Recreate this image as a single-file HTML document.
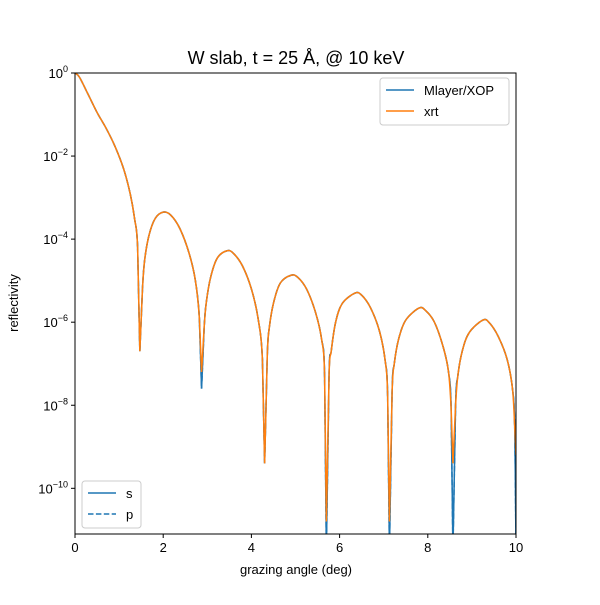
<!DOCTYPE html>
<html><head><meta charset="utf-8"><style>
body{margin:0;background:#fff}
svg{font-family:"Liberation Sans","DejaVu Sans",sans-serif}
</style></head><body>
<svg id="chart" width="600" height="600" viewBox="0 0 600 600">
<rect width="600" height="600" fill="#fff"/>
<text x="296" y="64" font-size="18" text-anchor="middle">W slab, t = 25 Å, @ 10 keV</text>
<g id="plot"></g>
<text x="296" y="574" font-size="13" text-anchor="middle">grazing angle (deg)</text>
<text x="18" y="303" font-size="13" text-anchor="middle" transform="rotate(-90 18 303)">reflectivity</text>
</svg>
<script>
const angles=[0,0.1,0.3,0.5,0.7,0.9,1.1,1.25,1.35,1.42,1.47,
1.53,1.58,1.68,1.82,2.0,2.17,2.38,2.59,2.73,2.82,2.87,
2.93,2.98,3.08,3.23,3.45,3.6,3.8,4.0,4.15,4.25,4.3,
4.36,4.41,4.51,4.66,4.9,5.05,5.25,5.45,5.59,5.66,5.7,
5.76,5.81,5.91,6.06,6.35,6.5,6.7,6.9,7.03,7.09,7.13,
7.19,7.24,7.34,7.5,7.8,7.95,8.15,8.35,8.47,8.53,8.57,
8.63,8.68,8.78,8.94,9.25,9.4,9.6,9.8,9.92,9.97,10];
const mlayerLog=[0,-0.1,-0.52,-0.95,-1.32,-1.75,-2.3,-2.9,-3.5,-4.2,-6.7,
-5.2,-4.5,-3.9,-3.5,-3.35,-3.42,-3.75,-4.35,-5.0,-5.9,-7.6,
-6.1,-5.5,-4.9,-4.45,-4.28,-4.35,-4.65,-5.2,-5.9,-6.9,-9.4,
-6.8,-6.1,-5.5,-5.05,-4.87,-4.92,-5.2,-5.75,-6.4,-7.3,-11.5,
-7.3,-6.7,-6.0,-5.55,-5.3,-5.35,-5.65,-6.2,-6.9,-7.8,-11.5,
-7.7,-7.0,-6.4,-5.95,-5.66,-5.72,-6.0,-6.6,-7.2,-8.1,-11.5,
-8.0,-7.3,-6.7,-6.25,-5.95,-6.02,-6.35,-6.9,-7.6,-8.5,-11.5];
const xrtLog=[0,-0.1,-0.52,-0.95,-1.32,-1.75,-2.3,-2.9,-3.5,-4.2,-6.7,
-5.2,-4.5,-3.9,-3.5,-3.35,-3.42,-3.75,-4.35,-5.0,-5.9,-7.2,
-6.1,-5.5,-4.9,-4.45,-4.28,-4.35,-4.65,-5.2,-5.9,-6.9,-9.4,
-6.8,-6.1,-5.5,-5.05,-4.87,-4.92,-5.2,-5.75,-6.4,-7.3,-10.8,
-7.3,-6.7,-6.0,-5.55,-5.3,-5.35,-5.65,-6.2,-6.9,-7.8,-10.8,
-7.7,-7.0,-6.4,-5.95,-5.66,-5.72,-6.0,-6.6,-7.2,-8.1,-9.4,
-8.0,-7.3,-6.7,-6.25,-5.95,-6.02,-6.35,-6.9,-7.6,-8.5,-9.2];
const xTicks=[0,2,4,6,8,10];
const yTicks=[0,-2,-4,-6,-8,-10];
const L=75,R=516,T=73,B=534,yMin=-11.1,yMax=0;
const xs=v=>L+(v-0)/(10-0)*(R-L);
const ys=v=>T+(yMax-Math.max(v,yMin-0.4))/(yMax-yMin)*(B-T);
const NS="http://www.w3.org/2000/svg";
const g=document.getElementById('plot');
function mk(t,a){const e=document.createElementNS(NS,t);for(const k in a)e.setAttribute(k,a[k]);return e;}
const defs=mk('defs',{});const cp=mk('clipPath',{id:'clip'});cp.appendChild(mk('rect',{x:L,y:T,width:R-L,height:B-T}));defs.appendChild(cp);g.appendChild(defs);
function pathD(arr){
 const P=arr.map((v,i)=>[xs(angles[i]),ys(v)]);
 let d='M'+P[0][0].toFixed(2)+' '+P[0][1].toFixed(2);
 for(let i=0;i<P.length-1;i++){
  const p0=P[Math.max(i-1,0)],p1=P[i],p2=P[i+1],p3=P[Math.min(i+2,P.length-1)];
  // avoid overshoot near sharp minima: use straight segments when endpoint is a deep dip
  const dip=(j)=>j>0&&j<arr.length-1&&arr[j]<arr[j-1]&&arr[j]<arr[j+1];
  if(dip(i)||dip(i+1)){d+=' L'+p2[0].toFixed(2)+' '+p2[1].toFixed(2);continue;}
  const c1=[p1[0]+(p2[0]-p0[0])/6,p1[1]+(p2[1]-p0[1])/6];
  const c2=[p2[0]-(p3[0]-p1[0])/6,p2[1]-(p3[1]-p1[1])/6];
  d+=' C'+c1[0].toFixed(2)+' '+c1[1].toFixed(2)+' '+c2[0].toFixed(2)+' '+c2[1].toFixed(2)+' '+p2[0].toFixed(2)+' '+p2[1].toFixed(2);
 }
 return d;}
const series=g.appendChild(mk('g',{'clip-path':'url(#clip)'}));
let p=mk('path',{d:pathD(mlayerLog),fill:'none',stroke:'#1f77b4','stroke-width':1.5});


series.appendChild(p);
p=mk('path',{d:pathD(mlayerLog),fill:'none',stroke:'#1f77b4','stroke-width':1.5,'stroke-dasharray':'5.5 2.4'});


series.appendChild(p);
p=mk('path',{d:pathD(xrtLog),fill:'none',stroke:'#ff7f0e','stroke-width':1.5});


series.appendChild(p);
const frame=mk('rect',{x:L,y:T,width:R-L,height:B-T,fill:'none',stroke:'#000','stroke-width':1});


g.appendChild(frame);
xTicks.forEach(v=>{const x=xs(v);g.appendChild(mk('line',{x1:x,x2:x,y1:B,y2:B+4,stroke:'#000'}));
 const t=mk('text',{x:x,y:B+18,'font-size':13,'text-anchor':'middle'});t.textContent=v;
 
 
 g.appendChild(t);});
yTicks.forEach(v=>{const y=ys(v);g.appendChild(mk('line',{x1:L-4,x2:L,y1:y,y2:y,stroke:'#000'}));
 const t=mk('text',{x:L-7,y:y+5,'font-size':13,'text-anchor':'end'});
 t.innerHTML='10<tspan dy="-6" font-size="9">'+(v===0?'0':'−'+(-v))+'</tspan>';
 
 
 g.appendChild(t);});
function legend(x,y,w,items,name){const lg=mk('g',{});
 
 
 lg.appendChild(mk('rect',{x:x,y:y,width:w,height:47,rx:3,fill:'#fff','fill-opacity':0.8,stroke:'#ccc'}));
 items.forEach((it,i)=>{const yy=y+12+i*21;const a={x1:x+6,x2:x+34,y1:yy,y2:yy,stroke:it[1],'stroke-width':1.5};if(it[2])a['stroke-dasharray']='5.5 2.4';
  lg.appendChild(mk('line',a));const t=mk('text',{x:x+44,y:yy+5,'font-size':13});t.textContent=it[0];lg.appendChild(t);});
 g.appendChild(lg);}
legend(380,78,129,[['Mlayer/XOP','#1f77b4'],['xrt','#ff7f0e']],'legend-source');
legend(82,481,59,[['s','#1f77b4'],['p','#1f77b4',1]],'legend-polarization');
</script>
</body></html>
